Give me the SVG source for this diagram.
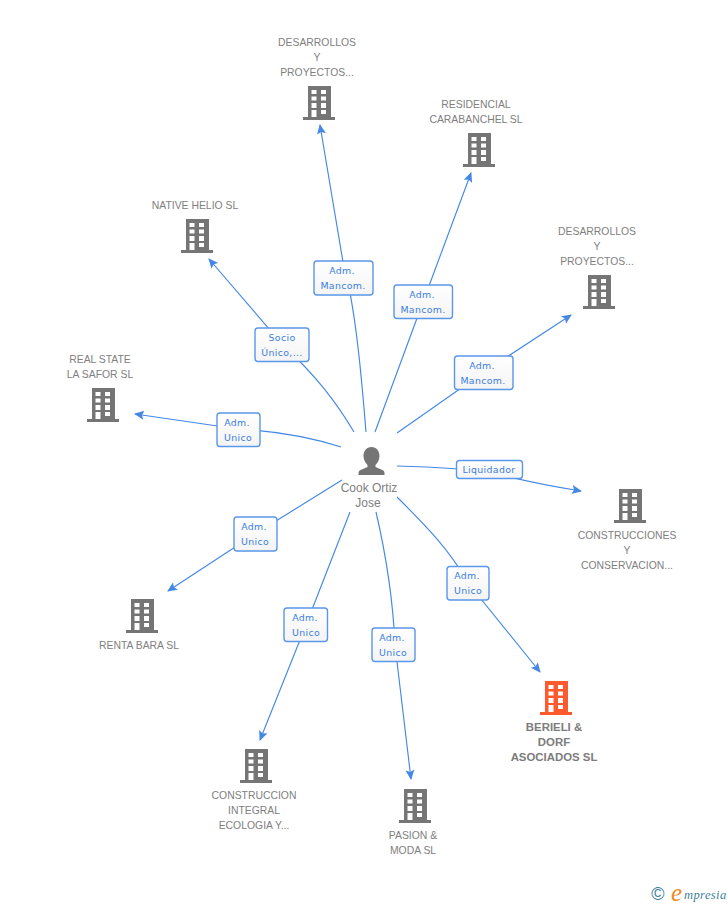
<svg xmlns="http://www.w3.org/2000/svg" width="728" height="905" viewBox="0 0 728 905">
<style>
.c{fill:none;stroke:#4488e6;stroke-width:1.15;marker-end:url(#a)}
.b{fill:url(#f);stroke:#5a96ea;stroke-width:1.4}
.l{font:9.4px "DejaVu Sans",sans-serif;fill:#3a7ee0;text-anchor:middle;letter-spacing:.35px}
.t{font:10.4px "Liberation Sans",Arial,sans-serif;fill:#808080;text-anchor:middle}
.p{font:12px "Liberation Sans",Arial,sans-serif;fill:#808080;text-anchor:middle}
.tb{font:bold 11.4px "Liberation Sans",Arial,sans-serif;fill:#7c7c7c;text-anchor:middle}
</style>
<defs>
<marker id="a" markerUnits="userSpaceOnUse" markerWidth="11" markerHeight="10" refX="9" refY="4.5" orient="auto"><path d="M0 0L10 4.5L0 9L2 4.500Z" fill="#4488e6"/></marker>
<g id="g"><path fill-rule="evenodd" fill="#757575" d="M-11 0h23v31h4v3h-32v-3h5ZM-7.500 4v4h5v-4ZM2 4v4h5v-4ZM-7.500 10.500v4h5v-4ZM2 10.500v4h5v-4ZM-7.500 17v5h5v-5ZM2 17v5h5v-5ZM-7.500 24v7h5v-7ZM2 24v4h5v-4Z"/></g>
<g id="o"><path fill-rule="evenodd" fill="#ff5a2e" d="M-11 0h23v31h4v3h-32v-3h5ZM-7.500 4v4h5v-4ZM2 4v4h5v-4ZM-7.500 10.500v4h5v-4ZM2 10.500v4h5v-4ZM-7.500 17v5h5v-5ZM2 17v5h5v-5ZM-7.500 24v7h5v-7ZM2 24v4h5v-4Z"/></g>
<linearGradient id="f" x1="0" y1="0" x2="0" y2="1"><stop offset="0" stop-color="#fff"/><stop offset="1" stop-color="#f4f4f4"/></linearGradient>
</defs>
<g id="connectors">
<path class="c" d="M366 432C361 370 355 305 343 262L320 125"/>
<path class="c" d="M375 432L423 302L471 173"/>
<path class="c" d="M397 433L484 372L571 315"/>
<path class="c" d="M397 466C430 467 460 468 490 472C520 480 550 486 581 491"/>
<path class="c" d="M397 497C425 525 450 550 468 583L540 672"/>
<path class="c" d="M376 512C386 555 393 600 395 645L411 779"/>
<path class="c" d="M350 512L306 625L260 740"/>
<path class="c" d="M342 480L255 534L168 591"/>
<path class="c" d="M341 447C310 437 275 431 238 429L135 414"/>
<path class="c" d="M354 432C335 400 315 375 282 344L209 259"/>
</g>
<g id="edge-labels">
<g><rect class="b" x="314" y="261" width="59" height="34" rx="3"/><text class="l" x="342" y="274">Adm.</text><text class="l" x="343" y="289">Mancom.</text></g>
<g><rect class="b" x="394" y="285" width="58.500" height="33.500" rx="3"/><text class="l" x="422" y="298">Adm.</text><text class="l" x="423" y="313">Mancom.</text></g>
<g><rect class="b" x="454.500" y="356" width="58.500" height="33.500" rx="3"/><text class="l" x="482" y="369">Adm.</text><text class="l" x="483" y="384">Mancom.</text></g>
<g><rect class="b" x="456.500" y="460.500" width="66" height="18" rx="3"/><text class="l" x="489" y="473">Liquidador</text></g>
<g><rect class="b" x="447" y="566.500" width="42" height="33.500" rx="3"/><text class="l" x="467" y="579">Adm.</text><text class="l" x="468" y="594">Unico</text></g>
<g><rect class="b" x="372" y="628" width="43" height="33.500" rx="3"/><text class="l" x="392" y="641">Adm.</text><text class="l" x="393" y="656">Unico</text></g>
<g><rect class="b" x="284" y="608" width="43.500" height="33.500" rx="3"/><text class="l" x="305" y="621">Adm.</text><text class="l" x="306" y="636">Unico</text></g>
<g><rect class="b" x="234" y="517" width="43" height="34" rx="3"/><text class="l" x="254" y="530">Adm.</text><text class="l" x="255" y="545">Unico</text></g>
<g><rect class="b" x="217" y="413" width="43" height="33.500" rx="3"/><text class="l" x="237" y="426">Adm.</text><text class="l" x="238" y="441">Unico</text></g>
<g><rect class="b" x="255" y="328" width="54" height="33.500" rx="3"/><text class="l" x="282" y="341">Socio</text><text class="l" x="282" y="356">Único,...</text></g>
</g>
<g id="person">
<path fill="#757575" d="M371.500 447c5 0 8 4 8 9c0 4-2 7-4 9v2l7 3c2 1 2 2 2 4v1h-26v-1c0-2 0-3 2-4l7-3v-2c-2-2-4-5-4-9c0-5 3-9 8-9Z"/>
<text class="p" x="369" y="492">Cook Ortiz</text><text class="p" x="368" y="507">Jose</text>
</g>
<g id="n1"><use href="#g" x="319" y="86"/><text class="t" x="317" y="46">DESARROLLOS</text><text class="t" x="317" y="61">Y</text><text class="t" x="317" y="76">PROYECTOS...</text></g>
<g id="n2"><use href="#g" x="479" y="133"/><text class="t" x="476" y="108">RESIDENCIAL</text><text class="t" x="476" y="123">CARABANCHEL SL</text></g>
<g id="n3"><use href="#g" x="599" y="275"/><text class="t" x="597" y="235">DESARROLLOS</text><text class="t" x="597" y="250">Y</text><text class="t" x="597" y="265">PROYECTOS...</text></g>
<g id="n4"><use href="#g" x="197" y="219"/><text class="t" x="195" y="209">NATIVE HELIO SL</text></g>
<g id="n5"><use href="#g" x="103" y="388"/><text class="t" x="100" y="363">REAL STATE</text><text class="t" x="100" y="378">LA SAFOR SL</text></g>
<g id="n6"><use href="#g" x="630" y="489"/><text class="t" x="627" y="539">CONSTRUCCIONES</text><text class="t" x="627" y="554">Y</text><text class="t" x="627" y="569">CONSERVACION...</text></g>
<g id="n7"><use href="#g" x="142" y="599"/><text class="t" x="139" y="649">RENTA BARA SL</text></g>
<g id="n8"><use href="#g" x="256" y="749"/><text class="t" x="254" y="799">CONSTRUCCION</text><text class="t" x="254" y="814">INTEGRAL</text><text class="t" x="254" y="829">ECOLOGIA Y...</text></g>
<g id="n9"><use href="#g" x="415" y="789"/><text class="t" x="413" y="839">PASION &amp;</text><text class="t" x="413" y="854">MODA SL</text></g>
<g id="n10"><use href="#o" x="556" y="681"/><text class="tb" x="554" y="731">BERIELI &amp;</text><text class="tb" x="554" y="746">DORF</text><text class="tb" x="554" y="761">ASOCIADOS SL</text></g>
<g id="logo"><text x="658" y="900" text-anchor="middle" style="font:18px 'Liberation Sans',sans-serif;fill:#3f7f9a">©</text><text x="671" y="901" style="font:italic 25px 'Liberation Serif',serif;fill:#f08a1d">e</text><text x="684" y="899" style="font:italic 12.500px 'Liberation Serif',serif;fill:#3f7f9a;letter-spacing:.4px">mpresia</text></g>
</svg>
